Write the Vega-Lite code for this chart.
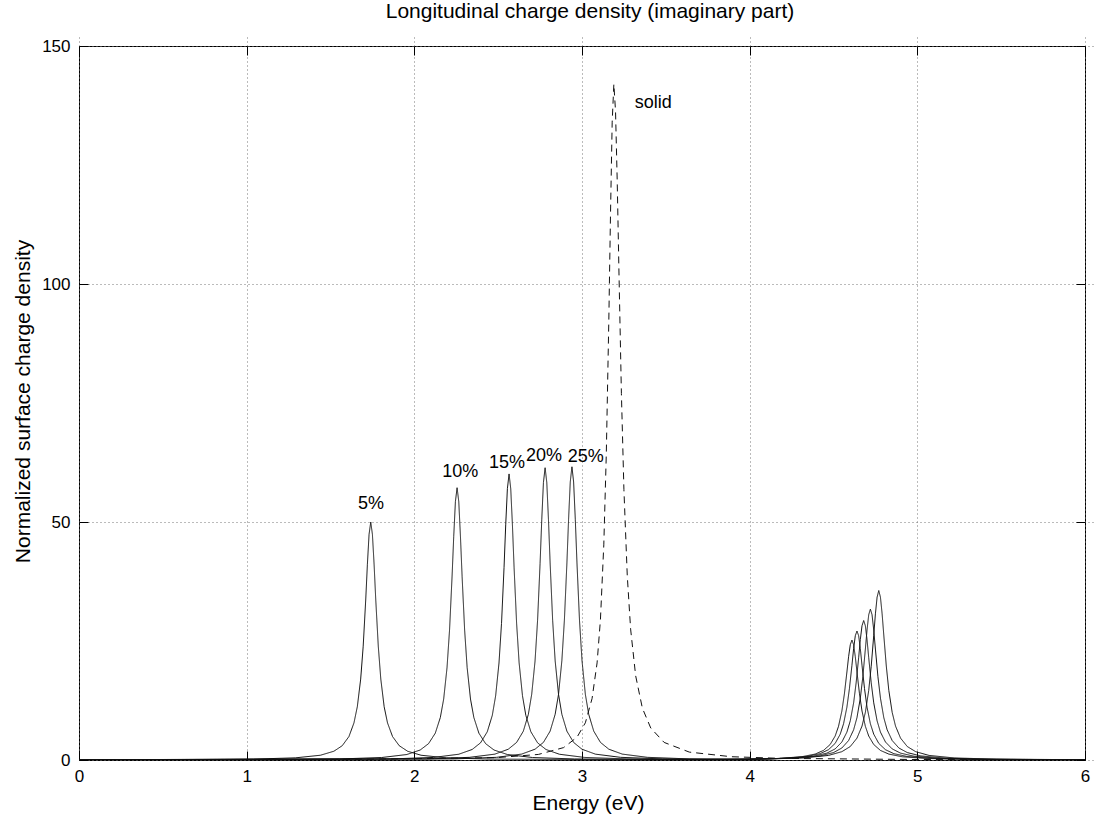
{
  "$schema": "https://vega.github.io/schema/vega-lite/v6.json",
  "width": 1006,
  "height": 714,
  "autosize": {"type": "none"},
  "padding": {"left": 79, "top": 46, "right": 24, "bottom": 61},
  "background": "white",
  "config": {
    "font": "Liberation Sans",
    "view": {"stroke": "black", "strokeWidth": 1},
    "axis": {
      "domain": false,
      "tickColor": "black",
      "tickSize": 9,
      "offset": -9,
      "labelColor": "black",
      "titleColor": "black",
      "labelFontSize": 17,
      "labelFlush": false,
      "titleFontSize": 21,
      "titleFontWeight": "normal",
      "gridColor": "#777777",
      "gridDash": [1, 3],
      "gridWidth": 1
    }
  },
  "title": {
    "text": "Longitudinal charge density (imaginary part)",
    "fontSize": 21,
    "fontWeight": "normal",
    "color": "black",
    "offset": 15,
    "dx": 8
  },
  "datasets": {
    "curves": [
      {"s": "5%", "e": 0, "v": 0.03},
      {"s": "5%", "e": 1.04, "v": 0.19},
      {"s": "5%", "e": 1.29, "v": 0.45},
      {"s": "5%", "e": 1.44, "v": 1.0},
      {"s": "5%", "e": 1.52, "v": 1.84},
      {"s": "5%", "e": 1.57, "v": 3.0},
      {"s": "5%", "e": 1.61, "v": 4.93},
      {"s": "5%", "e": 1.64, "v": 7.8},
      {"s": "5%", "e": 1.66, "v": 11.2},
      {"s": "5%", "e": 1.68, "v": 17.0},
      {"s": "5%", "e": 1.695, "v": 23.9},
      {"s": "5%", "e": 1.71, "v": 33.6},
      {"s": "5%", "e": 1.72, "v": 41.1},
      {"s": "5%", "e": 1.73, "v": 47.4},
      {"s": "5%", "e": 1.74, "v": 50},
      {"s": "5%", "e": 1.75, "v": 47.4},
      {"s": "5%", "e": 1.76, "v": 41.1},
      {"s": "5%", "e": 1.77, "v": 33.6},
      {"s": "5%", "e": 1.785, "v": 23.9},
      {"s": "5%", "e": 1.8, "v": 17.0},
      {"s": "5%", "e": 1.82, "v": 11.2},
      {"s": "5%", "e": 1.84, "v": 7.8},
      {"s": "5%", "e": 1.87, "v": 4.93},
      {"s": "5%", "e": 1.91, "v": 3.0},
      {"s": "5%", "e": 1.96, "v": 1.84},
      {"s": "5%", "e": 2.04, "v": 1.0},
      {"s": "5%", "e": 2.19, "v": 0.45},
      {"s": "5%", "e": 2.44, "v": 0.19},
      {"s": "5%", "e": 3.2, "v": 0.07},
      {"s": "5%", "e": 3.91, "v": 0.13},
      {"s": "5%", "e": 4.16, "v": 0.31},
      {"s": "5%", "e": 4.31, "v": 0.68},
      {"s": "5%", "e": 4.39, "v": 1.24},
      {"s": "5%", "e": 4.44, "v": 2.01},
      {"s": "5%", "e": 4.48, "v": 3.25},
      {"s": "5%", "e": 4.51, "v": 5.04},
      {"s": "5%", "e": 4.53, "v": 7.08},
      {"s": "5%", "e": 4.55, "v": 10.3},
      {"s": "5%", "e": 4.565, "v": 13.9},
      {"s": "5%", "e": 4.58, "v": 18.5},
      {"s": "5%", "e": 4.59, "v": 21.7},
      {"s": "5%", "e": 4.6, "v": 24.2},
      {"s": "5%", "e": 4.61, "v": 25.2},
      {"s": "5%", "e": 4.62, "v": 24.2},
      {"s": "5%", "e": 4.63, "v": 21.7},
      {"s": "5%", "e": 4.64, "v": 18.5},
      {"s": "5%", "e": 4.655, "v": 13.9},
      {"s": "5%", "e": 4.67, "v": 10.3},
      {"s": "5%", "e": 4.69, "v": 7.08},
      {"s": "5%", "e": 4.71, "v": 5.04},
      {"s": "5%", "e": 4.74, "v": 3.25},
      {"s": "5%", "e": 4.78, "v": 2.01},
      {"s": "5%", "e": 4.83, "v": 1.24},
      {"s": "5%", "e": 4.91, "v": 0.68},
      {"s": "5%", "e": 5.06, "v": 0.31},
      {"s": "5%", "e": 5.31, "v": 0.13},
      {"s": "5%", "e": 6, "v": 0.03},

      {"s": "10%", "e": 0, "v": 0.03},
      {"s": "10%", "e": 1.555, "v": 0.22},
      {"s": "10%", "e": 1.805, "v": 0.52},
      {"s": "10%", "e": 1.955, "v": 1.15},
      {"s": "10%", "e": 2.035, "v": 2.1},
      {"s": "10%", "e": 2.085, "v": 3.44},
      {"s": "10%", "e": 2.125, "v": 5.64},
      {"s": "10%", "e": 2.155, "v": 8.92},
      {"s": "10%", "e": 2.175, "v": 12.8},
      {"s": "10%", "e": 2.195, "v": 19.4},
      {"s": "10%", "e": 2.21, "v": 27.3},
      {"s": "10%", "e": 2.225, "v": 38.5},
      {"s": "10%", "e": 2.235, "v": 47.0},
      {"s": "10%", "e": 2.245, "v": 54.3},
      {"s": "10%", "e": 2.255, "v": 57.2},
      {"s": "10%", "e": 2.265, "v": 54.3},
      {"s": "10%", "e": 2.275, "v": 47.0},
      {"s": "10%", "e": 2.285, "v": 38.5},
      {"s": "10%", "e": 2.3, "v": 27.3},
      {"s": "10%", "e": 2.315, "v": 19.4},
      {"s": "10%", "e": 2.335, "v": 12.8},
      {"s": "10%", "e": 2.355, "v": 8.92},
      {"s": "10%", "e": 2.385, "v": 5.64},
      {"s": "10%", "e": 2.425, "v": 3.44},
      {"s": "10%", "e": 2.475, "v": 2.1},
      {"s": "10%", "e": 2.555, "v": 1.15},
      {"s": "10%", "e": 2.705, "v": 0.52},
      {"s": "10%", "e": 2.955, "v": 0.22},
      {"s": "10%", "e": 3.45, "v": 0.1},
      {"s": "10%", "e": 3.94, "v": 0.14},
      {"s": "10%", "e": 4.19, "v": 0.33},
      {"s": "10%", "e": 4.34, "v": 0.73},
      {"s": "10%", "e": 4.42, "v": 1.33},
      {"s": "10%", "e": 4.47, "v": 2.16},
      {"s": "10%", "e": 4.51, "v": 3.49},
      {"s": "10%", "e": 4.54, "v": 5.42},
      {"s": "10%", "e": 4.56, "v": 7.61},
      {"s": "10%", "e": 4.58, "v": 11.1},
      {"s": "10%", "e": 4.595, "v": 15.0},
      {"s": "10%", "e": 4.61, "v": 19.9},
      {"s": "10%", "e": 4.62, "v": 23.4},
      {"s": "10%", "e": 4.63, "v": 26.1},
      {"s": "10%", "e": 4.64, "v": 27.1},
      {"s": "10%", "e": 4.65, "v": 26.1},
      {"s": "10%", "e": 4.66, "v": 23.4},
      {"s": "10%", "e": 4.67, "v": 19.9},
      {"s": "10%", "e": 4.685, "v": 15.0},
      {"s": "10%", "e": 4.7, "v": 11.1},
      {"s": "10%", "e": 4.72, "v": 7.61},
      {"s": "10%", "e": 4.74, "v": 5.42},
      {"s": "10%", "e": 4.77, "v": 3.49},
      {"s": "10%", "e": 4.81, "v": 2.16},
      {"s": "10%", "e": 4.86, "v": 1.33},
      {"s": "10%", "e": 4.94, "v": 0.73},
      {"s": "10%", "e": 5.09, "v": 0.33},
      {"s": "10%", "e": 5.34, "v": 0.14},
      {"s": "10%", "e": 6, "v": 0.04},

      {"s": "15%", "e": 0, "v": 0.02},
      {"s": "15%", "e": 1.865, "v": 0.23},
      {"s": "15%", "e": 2.115, "v": 0.54},
      {"s": "15%", "e": 2.265, "v": 1.21},
      {"s": "15%", "e": 2.345, "v": 2.21},
      {"s": "15%", "e": 2.395, "v": 3.61},
      {"s": "15%", "e": 2.435, "v": 5.93},
      {"s": "15%", "e": 2.465, "v": 9.38},
      {"s": "15%", "e": 2.485, "v": 13.5},
      {"s": "15%", "e": 2.505, "v": 20.4},
      {"s": "15%", "e": 2.52, "v": 28.7},
      {"s": "15%", "e": 2.535, "v": 40.4},
      {"s": "15%", "e": 2.545, "v": 49.4},
      {"s": "15%", "e": 2.555, "v": 57.0},
      {"s": "15%", "e": 2.565, "v": 60.1},
      {"s": "15%", "e": 2.575, "v": 57.0},
      {"s": "15%", "e": 2.585, "v": 49.4},
      {"s": "15%", "e": 2.595, "v": 40.4},
      {"s": "15%", "e": 2.61, "v": 28.7},
      {"s": "15%", "e": 2.625, "v": 20.4},
      {"s": "15%", "e": 2.645, "v": 13.5},
      {"s": "15%", "e": 2.665, "v": 9.38},
      {"s": "15%", "e": 2.695, "v": 5.93},
      {"s": "15%", "e": 2.735, "v": 3.61},
      {"s": "15%", "e": 2.785, "v": 2.21},
      {"s": "15%", "e": 2.865, "v": 1.21},
      {"s": "15%", "e": 3.015, "v": 0.54},
      {"s": "15%", "e": 3.265, "v": 0.23},
      {"s": "15%", "e": 3.62, "v": 0.13},
      {"s": "15%", "e": 3.98, "v": 0.15},
      {"s": "15%", "e": 4.23, "v": 0.36},
      {"s": "15%", "e": 4.38, "v": 0.79},
      {"s": "15%", "e": 4.46, "v": 1.44},
      {"s": "15%", "e": 4.51, "v": 2.33},
      {"s": "15%", "e": 4.55, "v": 3.78},
      {"s": "15%", "e": 4.58, "v": 5.86},
      {"s": "15%", "e": 4.6, "v": 8.23},
      {"s": "15%", "e": 4.62, "v": 12.0},
      {"s": "15%", "e": 4.635, "v": 16.2},
      {"s": "15%", "e": 4.65, "v": 21.5},
      {"s": "15%", "e": 4.66, "v": 25.3},
      {"s": "15%", "e": 4.67, "v": 28.2},
      {"s": "15%", "e": 4.68, "v": 29.3},
      {"s": "15%", "e": 4.69, "v": 28.2},
      {"s": "15%", "e": 4.7, "v": 25.3},
      {"s": "15%", "e": 4.71, "v": 21.5},
      {"s": "15%", "e": 4.725, "v": 16.2},
      {"s": "15%", "e": 4.74, "v": 12.0},
      {"s": "15%", "e": 4.76, "v": 8.23},
      {"s": "15%", "e": 4.78, "v": 5.86},
      {"s": "15%", "e": 4.81, "v": 3.78},
      {"s": "15%", "e": 4.85, "v": 2.33},
      {"s": "15%", "e": 4.9, "v": 1.44},
      {"s": "15%", "e": 4.98, "v": 0.79},
      {"s": "15%", "e": 5.13, "v": 0.36},
      {"s": "15%", "e": 5.38, "v": 0.15},
      {"s": "15%", "e": 6, "v": 0.04},

      {"s": "20%", "e": 0, "v": 0.02},
      {"s": "20%", "e": 2.08, "v": 0.23},
      {"s": "20%", "e": 2.33, "v": 0.56},
      {"s": "20%", "e": 2.48, "v": 1.23},
      {"s": "20%", "e": 2.56, "v": 2.26},
      {"s": "20%", "e": 2.61, "v": 3.69},
      {"s": "20%", "e": 2.65, "v": 6.05},
      {"s": "20%", "e": 2.68, "v": 9.58},
      {"s": "20%", "e": 2.7, "v": 13.8},
      {"s": "20%", "e": 2.72, "v": 20.8},
      {"s": "20%", "e": 2.735, "v": 29.3},
      {"s": "20%", "e": 2.75, "v": 41.3},
      {"s": "20%", "e": 2.76, "v": 50.5},
      {"s": "20%", "e": 2.77, "v": 58.3},
      {"s": "20%", "e": 2.78, "v": 61.4},
      {"s": "20%", "e": 2.79, "v": 58.3},
      {"s": "20%", "e": 2.8, "v": 50.5},
      {"s": "20%", "e": 2.81, "v": 41.3},
      {"s": "20%", "e": 2.825, "v": 29.3},
      {"s": "20%", "e": 2.84, "v": 20.8},
      {"s": "20%", "e": 2.86, "v": 13.8},
      {"s": "20%", "e": 2.88, "v": 9.58},
      {"s": "20%", "e": 2.91, "v": 6.05},
      {"s": "20%", "e": 2.95, "v": 3.69},
      {"s": "20%", "e": 3.0, "v": 2.26},
      {"s": "20%", "e": 3.08, "v": 1.23},
      {"s": "20%", "e": 3.23, "v": 0.56},
      {"s": "20%", "e": 3.48, "v": 0.23},
      {"s": "20%", "e": 3.75, "v": 0.15},
      {"s": "20%", "e": 4.02, "v": 0.16},
      {"s": "20%", "e": 4.27, "v": 0.39},
      {"s": "20%", "e": 4.42, "v": 0.86},
      {"s": "20%", "e": 4.5, "v": 1.56},
      {"s": "20%", "e": 4.55, "v": 2.52},
      {"s": "20%", "e": 4.59, "v": 4.09},
      {"s": "20%", "e": 4.62, "v": 6.34},
      {"s": "20%", "e": 4.64, "v": 8.9},
      {"s": "20%", "e": 4.66, "v": 13.0},
      {"s": "20%", "e": 4.675, "v": 17.5},
      {"s": "20%", "e": 4.69, "v": 23.3},
      {"s": "20%", "e": 4.7, "v": 27.3},
      {"s": "20%", "e": 4.71, "v": 30.5},
      {"s": "20%", "e": 4.72, "v": 31.7},
      {"s": "20%", "e": 4.73, "v": 30.5},
      {"s": "20%", "e": 4.74, "v": 27.3},
      {"s": "20%", "e": 4.75, "v": 23.3},
      {"s": "20%", "e": 4.765, "v": 17.5},
      {"s": "20%", "e": 4.78, "v": 13.0},
      {"s": "20%", "e": 4.8, "v": 8.9},
      {"s": "20%", "e": 4.82, "v": 6.34},
      {"s": "20%", "e": 4.85, "v": 4.09},
      {"s": "20%", "e": 4.89, "v": 2.52},
      {"s": "20%", "e": 4.94, "v": 1.56},
      {"s": "20%", "e": 5.02, "v": 0.86},
      {"s": "20%", "e": 5.17, "v": 0.39},
      {"s": "20%", "e": 5.42, "v": 0.16},
      {"s": "20%", "e": 6, "v": 0.05},

      {"s": "25%", "e": 0, "v": 0.01},
      {"s": "25%", "e": 2.24, "v": 0.23},
      {"s": "25%", "e": 2.49, "v": 0.56},
      {"s": "25%", "e": 2.64, "v": 1.24},
      {"s": "25%", "e": 2.72, "v": 2.27},
      {"s": "25%", "e": 2.77, "v": 3.7},
      {"s": "25%", "e": 2.81, "v": 6.07},
      {"s": "25%", "e": 2.84, "v": 9.61},
      {"s": "25%", "e": 2.86, "v": 13.8},
      {"s": "25%", "e": 2.88, "v": 20.9},
      {"s": "25%", "e": 2.895, "v": 29.4},
      {"s": "25%", "e": 2.91, "v": 41.4},
      {"s": "25%", "e": 2.92, "v": 50.6},
      {"s": "25%", "e": 2.93, "v": 58.4},
      {"s": "25%", "e": 2.94, "v": 61.6},
      {"s": "25%", "e": 2.95, "v": 58.4},
      {"s": "25%", "e": 2.96, "v": 50.6},
      {"s": "25%", "e": 2.97, "v": 41.4},
      {"s": "25%", "e": 2.985, "v": 29.4},
      {"s": "25%", "e": 3.0, "v": 20.9},
      {"s": "25%", "e": 3.02, "v": 13.8},
      {"s": "25%", "e": 3.04, "v": 9.61},
      {"s": "25%", "e": 3.07, "v": 6.07},
      {"s": "25%", "e": 3.11, "v": 3.7},
      {"s": "25%", "e": 3.16, "v": 2.27},
      {"s": "25%", "e": 3.24, "v": 1.24},
      {"s": "25%", "e": 3.39, "v": 0.56},
      {"s": "25%", "e": 3.64, "v": 0.23},
      {"s": "25%", "e": 3.86, "v": 0.17},
      {"s": "25%", "e": 4.07, "v": 0.18},
      {"s": "25%", "e": 4.32, "v": 0.43},
      {"s": "25%", "e": 4.47, "v": 0.96},
      {"s": "25%", "e": 4.55, "v": 1.75},
      {"s": "25%", "e": 4.6, "v": 2.83},
      {"s": "25%", "e": 4.64, "v": 4.59},
      {"s": "25%", "e": 4.67, "v": 7.12},
      {"s": "25%", "e": 4.69, "v": 10.0},
      {"s": "25%", "e": 4.71, "v": 14.6},
      {"s": "25%", "e": 4.725, "v": 19.7},
      {"s": "25%", "e": 4.74, "v": 26.2},
      {"s": "25%", "e": 4.75, "v": 30.7},
      {"s": "25%", "e": 4.76, "v": 34.2},
      {"s": "25%", "e": 4.77, "v": 35.6},
      {"s": "25%", "e": 4.78, "v": 34.2},
      {"s": "25%", "e": 4.79, "v": 30.7},
      {"s": "25%", "e": 4.8, "v": 26.2},
      {"s": "25%", "e": 4.815, "v": 19.7},
      {"s": "25%", "e": 4.83, "v": 14.6},
      {"s": "25%", "e": 4.85, "v": 10.0},
      {"s": "25%", "e": 4.87, "v": 7.12},
      {"s": "25%", "e": 4.9, "v": 4.59},
      {"s": "25%", "e": 4.94, "v": 2.83},
      {"s": "25%", "e": 4.99, "v": 1.75},
      {"s": "25%", "e": 5.07, "v": 0.96},
      {"s": "25%", "e": 5.22, "v": 0.43},
      {"s": "25%", "e": 5.47, "v": 0.18},
      {"s": "25%", "e": 6, "v": 0.06},

      {"s": "solid", "e": 0, "v": 0.02},
      {"s": "solid", "e": 1.5, "v": 0.08},
      {"s": "solid", "e": 2.49, "v": 0.49},
      {"s": "solid", "e": 2.74, "v": 1.17},
      {"s": "solid", "e": 2.89, "v": 2.6},
      {"s": "solid", "e": 2.97, "v": 4.77},
      {"s": "solid", "e": 3.02, "v": 7.81},
      {"s": "solid", "e": 3.06, "v": 12.9},
      {"s": "solid", "e": 3.09, "v": 20.4},
      {"s": "solid", "e": 3.11, "v": 29.5},
      {"s": "solid", "e": 3.13, "v": 45.2},
      {"s": "solid", "e": 3.145, "v": 64.4},
      {"s": "solid", "e": 3.16, "v": 92.5},
      {"s": "solid", "e": 3.17, "v": 114.7},
      {"s": "solid", "e": 3.18, "v": 134.0},
      {"s": "solid", "e": 3.19, "v": 142},
      {"s": "solid", "e": 3.2, "v": 136.3},
      {"s": "solid", "e": 3.21, "v": 121.7},
      {"s": "solid", "e": 3.22, "v": 103.3},
      {"s": "solid", "e": 3.235, "v": 77.0},
      {"s": "solid", "e": 3.25, "v": 56.8},
      {"s": "solid", "e": 3.27, "v": 38.7},
      {"s": "solid", "e": 3.29, "v": 27.5},
      {"s": "solid", "e": 3.32, "v": 17.7},
      {"s": "solid", "e": 3.36, "v": 10.9},
      {"s": "solid", "e": 3.41, "v": 6.72},
      {"s": "solid", "e": 3.49, "v": 3.69},
      {"s": "solid", "e": 3.64, "v": 1.66},
      {"s": "solid", "e": 3.89, "v": 0.69},
      {"s": "solid", "e": 4.19, "v": 0.34},
      {"s": "solid", "e": 5, "v": 0.1},
      {"s": "solid", "e": 6, "v": 0.04}
    ],
    "labels": [
      {"t": "5%", "e": 1.741, "v": 53.8},
      {"t": "10%", "e": 2.274, "v": 60.6},
      {"t": "15%", "e": 2.553, "v": 62.3},
      {"t": "20%", "e": 2.773, "v": 63.9},
      {"t": "25%", "e": 3.022, "v": 63.7},
      {"t": "solid", "e": 3.425, "v": 138.0}
    ]
  },
  "layer": [
    {
      "data": {"name": "curves"},
      "mark": {"type": "line", "strokeWidth": 1, "color": "#111111", "clip": true},
      "encoding": {
        "x": {
          "field": "e",
          "type": "quantitative",
          "scale": {"domain": [0, 6], "nice": false},
          "axis": {
            "orient": "bottom",
            "values": [0, 1, 2, 3, 4, 5, 6],
            "format": "d",
            "grid": true,
            "labelFontSize": 17,
            "labelPadding": 8,
            "title": "Energy (eV)",
            "titleX": 509,
            "titleY": 58,
            "titleAlign": "center",
            "titleBaseline": "alphabetic"
          }
        },
        "y": {
          "field": "v",
          "type": "quantitative",
          "scale": {"domain": [0, 150], "nice": false},
          "axis": {
            "orient": "left",
            "values": [0, 50, 100, 150],
            "format": "d",
            "grid": true,
            "labelFontSize": 17,
            "labelPadding": 9,
            "title": "Normalized surface charge density",
            "titleX": -58.7,
            "titleY": 355,
            "titleAngle": -90,
            "titleAlign": "center",
            "titleBaseline": "alphabetic"
          }
        },
        "detail": {"field": "s"},
        "strokeDash": {
          "field": "s",
          "type": "nominal",
          "scale": {
            "domain": ["5%", "10%", "15%", "20%", "25%", "solid"],
            "range": [[1, 0], [1, 0], [1, 0], [1, 0], [1, 0], [7, 5]]
          },
          "legend": null
        }
      }
    },
    {
      "data": {"name": "labels"},
      "mark": {"type": "text", "fontSize": 18, "color": "black", "align": "center", "baseline": "middle"},
      "encoding": {
        "x": {
          "field": "e",
          "type": "quantitative",
          "scale": {"domain": [0, 6], "nice": false},
          "axis": {"orient": "top", "values": [0, 1, 2, 3, 4, 5, 6], "labels": false, "grid": false, "title": null}
        },
        "y": {
          "field": "v",
          "type": "quantitative",
          "scale": {"domain": [0, 150], "nice": false},
          "axis": {"orient": "right", "values": [0, 50, 100, 150], "labels": false, "grid": false, "title": null}
        },
        "text": {"field": "t"}
      }
    }
  ],
  "resolve": {"axis": {"x": "independent", "y": "independent"}}
}
